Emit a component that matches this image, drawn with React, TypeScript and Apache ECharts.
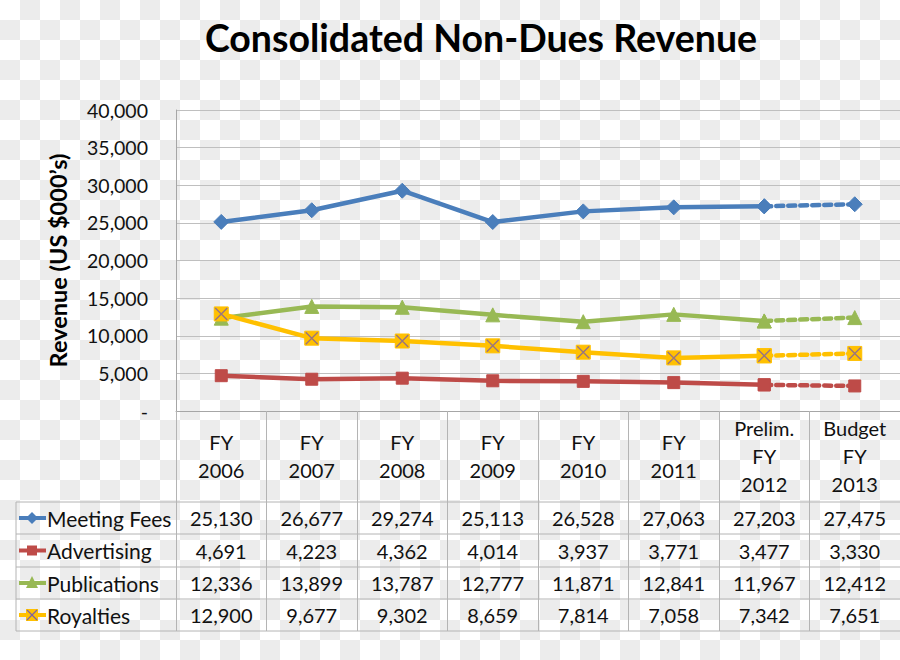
import React, { useEffect, useRef } from 'react';
import * as echarts from 'echarts';

const categories = [
  'FY\n2006', 'FY\n2007', 'FY\n2008', 'FY\n2009', 'FY\n2010', 'FY\n2011',
  'Prelim.\nFY\n2012', 'Budget\nFY\n2013',
];
const seriesNames = ['Meeting Fees', 'Advertising', 'Publications', 'Royalties'];
const meetingFees = [25130, 26677, 29274, 25113, 26528, 27063, 27203, 27475];
const advertising = [4691, 4223, 4362, 4014, 3937, 3771, 3477, 3330];
const publications = [12336, 13899, 13787, 12777, 11871, 12841, 11967, 12412];
const royalties = [12900, 9677, 9302, 8659, 7814, 7058, 7342, 7651];

const FONT = 'Lato, "Open Sans", sans-serif';
const COLORS = ['#4A7EBB', '#BE4B48', '#98B954', '#FFC000'];
const X_COLOR = '#7E62A1';
const GRID_LINE = '#bfbfbf';
const TABLE_LINE = '#b4b4b4';

const fmt = (v: number) => v.toLocaleString('en-US');

export default function App() {
  const ref = useRef<HTMLDivElement>(null);

  useEffect(() => {
    const chart = echarts.init(ref.current!, null, { renderer: 'svg' });
    const allData = [meetingFees, advertising, publications, royalties];
    const symbols = ['diamond', 'rect', 'triangle', 'rect'];
    const sizes = [15, 12, 14, 14];
    const last = categories.length - 1;

    const series: any[] = [];
    allData.forEach((vals, k) => {
      const common = {
        type: 'line',
        name: seriesNames[k],
        symbol: symbols[k],
        symbolSize: sizes[k],
        showAllSymbol: true,
        itemStyle: { color: COLORS[k], borderColor: COLORS[k] },
        z: 2 + k,
        connectNulls: false,
      };
      series.push({
        ...common,
        data: vals.map((v, i) => (i < last ? v : '-')),
        lineStyle: { color: COLORS[k], width: 4.5 },
      });
      series.push({
        ...common,
        data: vals.map((v, i) => (i >= last - 1 ? v : '-')),
        lineStyle: { color: COLORS[k], width: 4.5, type: [7, 5], cap: 'round' },
      });
    });
    series.push({
      type: 'scatter',
      name: 'Royalties X',
      data: royalties,
      symbol: 'path://M0,0L10,10M10,0L0,10',
      symbolSize: 12,
      itemStyle: { color: 'rgba(0,0,0,0)', borderColor: X_COLOR, borderWidth: 1.4 },
      z: 20,
    });

    chart.setOption({
      animation: false,
      backgroundColor: 'transparent',
      title: {
        text: 'Consolidated Non-Dues Revenue',
        left: 476,
        top: 13,
        textAlign: 'center',
        textStyle: { fontFamily: FONT, fontSize: 37.5, fontWeight: 'bold', color: '#000' },
      },
      grid: { left: 176, right: 0, top: 110, bottom: 249, containLabel: false },
      xAxis: {
        type: 'category',
        data: categories,
        boundaryGap: true,
        axisLine: { show: true, lineStyle: { color: '#a6a6a6', width: 1 } },
        axisTick: { show: true, length: 220, alignWithLabel: false, lineStyle: { color: TABLE_LINE } },
        axisLabel: {
          interval: 0,
          margin: 45,
          verticalAlign: 'middle',
          lineHeight: 28,
          fontSize: 20,
          fontFamily: FONT,
          color: '#111',
        },
        splitLine: { show: false },
      },
      yAxis: {
        type: 'value',
        min: 0,
        max: 40000,
        interval: 5000,
        name: 'Revenue (US $000\u2019s)',
        nameLocation: 'middle',
        nameGap: 106,
        nameTextStyle: { fontFamily: FONT, fontSize: 23.5, fontWeight: 'bold', color: '#000' },
        axisLine: { show: true, lineStyle: { color: '#a6a6a6' } },
        axisTick: { show: false },
        splitLine: { show: true, lineStyle: { color: GRID_LINE, width: 1 } },
        axisLabel: {
          margin: 28,
          fontSize: 19.5,
          fontFamily: FONT,
          color: '#111',
          formatter: (v: number) => (v === 0 ? '-' : fmt(v)),
        },
      },
      series,
    });

    // Data table under the axis
    const rowLines = [502, 534, 567, 599, 631];
    const rowCenters = rowLines.slice(0, 4).map((y, i) => (y + rowLines[i + 1]) / 2);
    const xs = categories.map((_, i) => chart.convertToPixel({ xAxisIndex: 0 }, i) as number);
    const graphics: any[] = [];
    rowLines.forEach((y) => {
      graphics.push({
        type: 'line',
        shape: { x1: 16, y1: y, x2: 900, y2: y },
        style: { stroke: TABLE_LINE, lineWidth: 1 },
        silent: true,
      });
    });
    graphics.push({
      type: 'line',
      shape: { x1: 16, y1: rowLines[0], x2: 16, y2: rowLines[4] },
      style: { stroke: TABLE_LINE, lineWidth: 1 },
    });
    allData.forEach((vals, k) => {
      const cy = rowCenters[k];
      // legend key
      graphics.push({
        type: 'line',
        shape: { x1: 19, y1: cy, x2: 46, y2: cy },
        style: { stroke: COLORS[k], lineWidth: 4 },
      });
      if (k === 0) {
        graphics.push({
          type: 'polygon',
          shape: { points: [[32, cy - 6], [38, cy], [32, cy + 6], [26, cy]] },
          style: { fill: COLORS[k] },
        });
      } else if (k === 1) {
        graphics.push({ type: 'rect', shape: { x: 27, y: cy - 5, width: 10, height: 10 }, style: { fill: COLORS[k] } });
      } else if (k === 2) {
        graphics.push({
          type: 'polygon',
          shape: { points: [[32, cy - 7], [38, cy + 5], [26, cy + 5]] },
          style: { fill: COLORS[k] },
        });
      } else {
        graphics.push({ type: 'rect', shape: { x: 26, y: cy - 6, width: 12, height: 12 }, style: { fill: COLORS[k] } });
        graphics.push({ type: 'line', shape: { x1: 27, y1: cy - 5, x2: 37, y2: cy + 5 }, style: { stroke: X_COLOR, lineWidth: 1.2 } });
        graphics.push({ type: 'line', shape: { x1: 37, y1: cy - 5, x2: 27, y2: cy + 5 }, style: { stroke: X_COLOR, lineWidth: 1.2 } });
      }
      graphics.push({
        type: 'text',
        x: 47,
        y: cy,
        style: { text: seriesNames[k], fontFamily: FONT, fontSize: 21, fill: '#111', verticalAlign: 'middle', align: 'left' },
      });
      vals.forEach((v, i) => {
        graphics.push({
          type: 'text',
          x: xs[i],
          y: cy,
          style: { text: fmt(v), fontFamily: FONT, fontSize: 20, fill: '#111', verticalAlign: 'middle', align: 'center' },
        });
      });
    });
    chart.setOption({ graphic: graphics });

    return () => chart.dispose();
  }, []);

  return (
    <div
      style={{
        position: 'absolute',
        left: 0,
        top: 0,
        width: 900,
        height: 660,
        backgroundColor: '#fff',
        backgroundImage: 'conic-gradient(#ececec 0 25%, #fff 0 50%, #ececec 0 75%, #fff 0)',
        backgroundSize: '40px 40px',
      }}
    >
      <div ref={ref} style={{ width: 900, height: 660 }} />
    </div>
  );
}
